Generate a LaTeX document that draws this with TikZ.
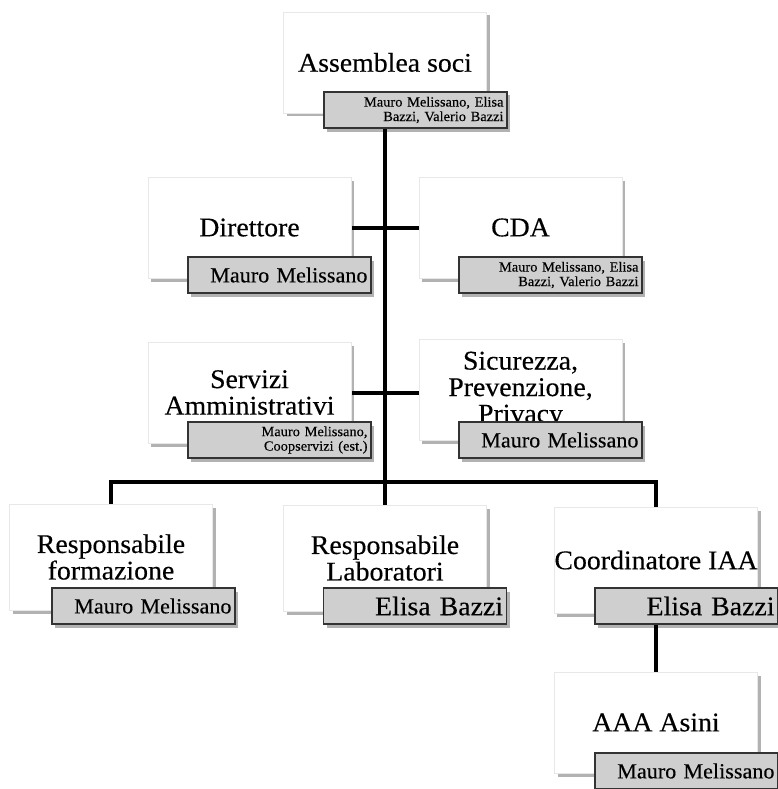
\documentclass[tikz,border=0pt]{standalone}
\usepackage{fontspec}
\setmainfont{Liberation Serif}[FakeStretch=1.03, FakeBold=0.3]
\usetikzlibrary{shadows,backgrounds}
\tikzset{
  shad/.style={drop shadow={shadow xshift=3pt, shadow yshift=-3.5pt, fill=black, opacity=0.3}},
  unitbox/.style={draw=gray!18, fill=white, minimum width=203pt, minimum height=101pt,
    inner sep=0pt, align=center, font=\fontsize{27}{26.5}\selectfont, shad},
  tallbox/.style={unitbox, minimum height=106pt},
  namebox/.style={draw=black!80, line width=1.2pt, fill=gray!38, minimum width=183pt,
    minimum height=36pt, inner xsep=3.5pt, inner ysep=0pt, text width=176pt, align=right, shad},
  namemid/.style={namebox, font=\fontsize{21.5}{22}\selectfont},
  namebig/.style={namebox, font=\fontsize{27}{28}\selectfont},
  namesmall/.style={namebox, font=\fontsize{14}{14.5}\selectfont},
  link/.style={line width=4pt, draw=black}
}
\begin{document}
\begin{tikzpicture}[x=1pt, y=-1pt]
\useasboundingbox (0,0) rectangle (778,789);
\clip (0,0) rectangle (778,789);
% main boxes
\node[unitbox] (A) at (385,62.5) {Assemblea soci};
\node[unitbox] (Dir) at (249.5,227.5) {Direttore};
\node[unitbox] (CDA) at (520.5,227.5) {CDA};
\node[unitbox] (Serv) at (249.5,392.5) {Servizi\\Amministrativi};
\node[unitbox] (Sic) at (520.5,390) {Sicurezza,\\Prevenzione,\\Privacy};
\node[tallbox] (Form) at (111,557) {Responsabile\\formazione};
\node[tallbox] (Lab) at (385,558) {Responsabile\\Laboratori};
\node[tallbox] (Coord) at (656,560) {Coordinatore IAA};
\node[unitbox] (AAA) at (656,722.5) {AAA Asini};
% name boxes
\node[namesmall] (nA) at (415.5,110) {Mauro Melissano, Elisa\\Bazzi, Valerio Bazzi};
\node[namemid] (nDir) at (279.5,275) {Mauro Melissano};
\node[namesmall] (nCDA) at (550.5,275) {Mauro Melissano, Elisa\\Bazzi, Valerio Bazzi};
\node[namesmall] (nServ) at (279.5,440) {Mauro Melissano,\\Coopservizi (est.)};
\node[namemid] (nSic) at (550.5,440) {Mauro Melissano};
\node[namemid] (nForm) at (143.5,606) {Mauro Melissano};
\node[namebig] (nLab) at (415,606) {Elisa Bazzi};
\node[namebig] (nCoord) at (686.5,606) {Elisa Bazzi};
\node[namemid] (nAAA) at (686.5,771) {Mauro Melissano};
\coordinate (bar) at (385,482);
% connectors
\begin{pgfonlayer}{background}
\draw[link] (A.center) -- (Lab.north);
\draw[link] (Dir.east) -- (CDA.west);
\draw[link] (Serv.east) -- (Sic.west |- Serv.east);
\draw[link] (Form.north) -- (Form.north |- bar) -- (Coord.north |- bar) -- (Coord.north);
\draw[link] (Coord.center) -- (AAA.north);
\end{pgfonlayer}
\end{tikzpicture}
\end{document}
